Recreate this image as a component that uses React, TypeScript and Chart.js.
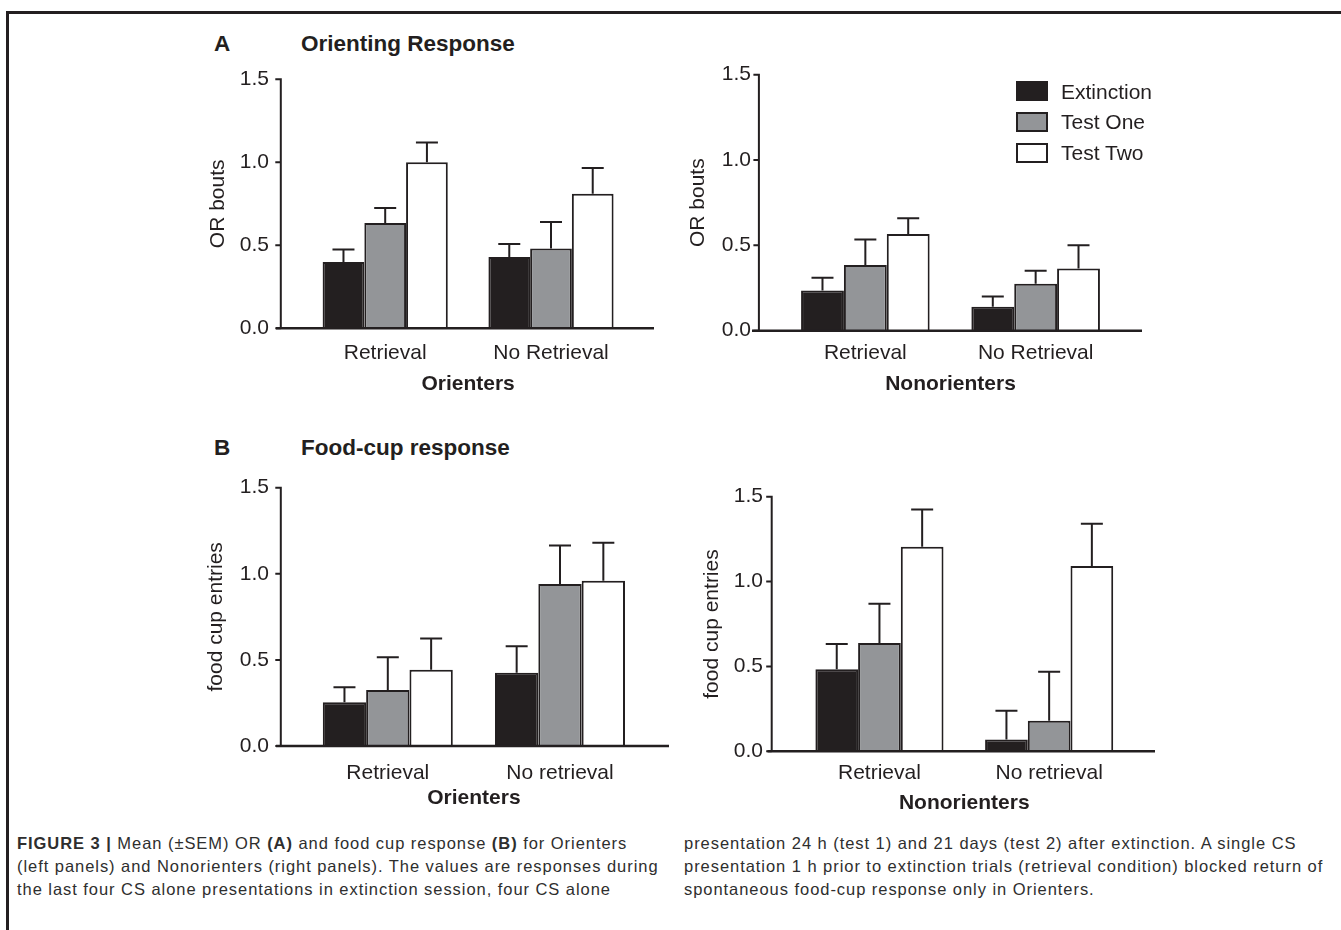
import React, { useEffect, useRef } from 'react';
import { Chart, registerables } from 'chart.js';

Chart.register(...registerables);

// ---------------- data ----------------
const SERIES = ['Extinction', 'Test One', 'Test Two'];
const CATS_A = ['Retrieval', 'No Retrieval'];
const CATS_B = ['Retrieval', 'No retrieval'];
const Y_TICKS = [0, 0.5, 1.0, 1.5];

// A: Orienting response, Orienters
const orOriExtinction = [0.40, 0.43];
const orOriTestOne = [0.635, 0.48];
const orOriTestTwo = [1.0, 0.81];
const orOriExtinctionSem = [0.075, 0.078];
const orOriTestOneSem = [0.09, 0.16];
const orOriTestTwoSem = [0.12, 0.155];

// A: Orienting response, Nonorienters
const orNonExtinction = [0.235, 0.14];
const orNonTestOne = [0.385, 0.275];
const orNonTestTwo = [0.567, 0.365];
const orNonExtinctionSem = [0.075, 0.06];
const orNonTestOneSem = [0.15, 0.077];
const orNonTestTwoSem = [0.092, 0.135];

// B: Food-cup response, Orienters
const fcOriExtinction = [0.254, 0.426];
const fcOriTestOne = [0.325, 0.941];
const fcOriTestTwo = [0.443, 0.96];
const fcOriExtinctionSem = [0.087, 0.153];
const fcOriTestOneSem = [0.19, 0.224];
const fcOriTestTwoSem = [0.182, 0.22];

// B: Food-cup response, Nonorienters
const fcNonExtinction = [0.483, 0.07];
const fcNonTestOne = [0.638, 0.18];
const fcNonTestTwo = [1.205, 1.091];
const fcNonExtinctionSem = [0.149, 0.169];
const fcNonTestOneSem = [0.231, 0.289];
const fcNonTestTwoSem = [0.22, 0.249];

// ---------------- styles ----------------
const INK = '#231f20';
const FILLS = ['#231f20', '#939598', '#ffffff'];
const SANS = "'Liberation Sans', Arial, Helvetica, sans-serif";
const FS = 21;
const LH = FS * 1.2;

type Layout = {
  canvas: { left: number; top: number; width: number; height: number };
  area: { left: number; right: number; top: number; bottom: number };
  yAxisX: number;
  xAxisFrom: number;
  xAxisTo: number;
  yLabelRight: number;
  yTitleX: number;
  xLabelY: number;
  xTitleY: number;
};

const LAYOUT_A_LEFT: Layout = {
  canvas: { left: 190, top: 60, width: 470, height: 340 },
  area: { left: 302.3, right: 633.9, top: 79.3, bottom: 328.3 },
  yAxisX: 280.8, xAxisFrom: 276, xAxisTo: 654, yLabelRight: 269,
  yTitleX: 218, xLabelY: 353, xTitleY: 384,
};
const LAYOUT_A_RIGHT: Layout = {
  canvas: { left: 670, top: 55, width: 490, height: 345 },
  area: { left: 780.2, right: 1120.8, top: 74.7, bottom: 330.7 },
  yAxisX: 758.9, xAxisFrom: 752, xAxisTo: 1142, yLabelRight: 751,
  yTitleX: 698, xLabelY: 353, xTitleY: 384,
};
const LAYOUT_B_LEFT: Layout = {
  canvas: { left: 190, top: 470, width: 490, height: 345 },
  area: { left: 301.7, right: 646.1, top: 487.7, bottom: 746 },
  yAxisX: 280.8, xAxisFrom: 276, xAxisTo: 669, yLabelRight: 269,
  yTitleX: 215.8, xLabelY: 773, xTitleY: 798,
};
const LAYOUT_B_RIGHT: Layout = {
  canvas: { left: 680, top: 475, width: 490, height: 345 },
  area: { left: 794.6, right: 1134, top: 496.7, bottom: 751.3 },
  yAxisX: 771.7, xAxisFrom: 767.5, xAxisTo: 1155, yLabelRight: 763,
  yTitleX: 712.3, xLabelY: 773, xTitleY: 803,
};

type PanelProps = {
  labels: string[];
  means: number[][];
  sems: number[][];
  yTitle: string;
  xTitle: string;
  layout: Layout;
};

function Panel({ labels, means, sems, yTitle, xTitle, layout }: PanelProps) {
  const ref = useRef<HTMLCanvasElement | null>(null);
  useEffect(() => {
    const canvas = ref.current;
    if (!canvas) return;

    const c = layout.canvas;
    const a = layout.area;
    const yWidth = a.left - c.left;
    const xHeight = c.top + c.height - a.bottom;
    const padTop = a.top - c.top;
    const padRight = c.left + c.width - a.right;

    const errorBars = {
      id: 'errorBars',
      afterDatasetsDraw(chart: any) {
        const g = chart.ctx;
        const yScale = chart.scales.y;
        g.save();
        g.strokeStyle = INK;
        g.lineWidth = 2;
        chart.data.datasets.forEach((ds: any, i: number) => {
          const meta = chart.getDatasetMeta(i);
          meta.data.forEach((bar: any, j: number) => {
            const top = yScale.getPixelForValue(ds.data[j] + sems[i][j]);
            const x = bar.x;
            g.beginPath();
            g.moveTo(x, bar.y);
            g.lineTo(x, top);
            g.moveTo(x - 11, top);
            g.lineTo(x + 11, top);
            g.stroke();
          });
        });
        g.restore();
      },
    };

    const axes = {
      id: 'axesLines',
      afterDraw(chart: any) {
        const g = chart.ctx;
        const yScale = chart.scales.y;
        const ax = layout.yAxisX - c.left;
        const y0 = yScale.getPixelForValue(0);
        const yMax = yScale.getPixelForValue(Y_TICKS[Y_TICKS.length - 1]);
        g.save();
        g.strokeStyle = INK;
        g.lineWidth = 2;
        g.beginPath();
        g.moveTo(ax, yMax - 1);
        g.lineTo(ax, y0);
        Y_TICKS.forEach((v) => {
          const py = yScale.getPixelForValue(v);
          g.moveTo(ax - 5.5, py);
          g.lineTo(ax, py);
        });
        g.stroke();
        g.lineWidth = 2.5;
        g.beginPath();
        g.moveTo(layout.xAxisFrom - c.left, y0);
        g.lineTo(layout.xAxisTo - c.left, y0);
        g.stroke();
        g.restore();
      },
    };

    const chart = new Chart(canvas, {
      type: 'bar',
      data: {
        labels,
        datasets: SERIES.map((name, i) => ({
          label: name,
          data: means[i],
          backgroundColor: FILLS[i],
          borderColor: INK,
          borderWidth: 2,
          borderSkipped: 'start',
          categoryPercentage: 0.755,
          barPercentage: 1.0,
        })),
      },
      options: {
        responsive: false,
        animation: false,
        devicePixelRatio: 1,
        layout: { padding: { left: 0, top: padTop, right: padRight, bottom: 0 } },
        plugins: {
          legend: { display: false },
          tooltip: { enabled: false },
        },
        scales: {
          x: {
            type: 'category',
            offset: true,
            grid: { display: false, drawTicks: true, tickLength: layout.xLabelY - a.bottom - LH / 2 },
            border: { display: false },
            ticks: {
              color: INK,
              font: { family: SANS, size: FS },
              padding: 0,
              maxRotation: 0,
              minRotation: 0,
              autoSkip: false,
            },
            title: {
              display: true,
              text: xTitle,
              color: INK,
              font: { family: SANS, size: FS, weight: 'bold' },
              padding: { top: 0, bottom: c.top + c.height - layout.xTitleY - LH / 2 },
            },
            afterFit: (s: any) => { s.height = xHeight; },
          } as any,
          y: {
            type: 'linear',
            min: 0,
            max: 1.5,
            grid: { display: false, drawTicks: true, tickLength: a.left - layout.yLabelRight },
            border: { display: false },
            afterBuildTicks: (s: any) => { s.ticks = Y_TICKS.map((v) => ({ value: v })); },
            ticks: {
              color: INK,
              font: { family: SANS, size: FS },
              padding: 0,
              callback: (v: any) => Number(v).toFixed(1),
            },
            title: {
              display: true,
              text: yTitle,
              color: INK,
              font: { family: SANS, size: FS },
              padding: { top: layout.yTitleX - c.left - LH / 2, bottom: 0 },
            },
            afterFit: (s: any) => { s.width = yWidth; },
          } as any,
        },
      },
      plugins: [errorBars, axes],
    } as any);
    return () => chart.destroy();
  }, [labels, means, sems, yTitle, xTitle, layout]);

  const c = layout.canvas;
  return (
    <canvas
      ref={ref}
      width={c.width}
      height={c.height}
      style={{ position: 'absolute', left: c.left, top: c.top, width: c.width, height: c.height }}
    />
  );
}

const abs = (left: number, top: number, extra: React.CSSProperties = {}): React.CSSProperties => ({
  position: 'absolute', left, top, whiteSpace: 'nowrap', ...extra,
});

function Label({ x, cy, size, bold, children }: { x: number; cy: number; size: number; bold?: boolean; children: React.ReactNode }) {
  return (
    <div
      style={abs(x, cy - size * 0.6, {
        font: `${bold ? 'bold ' : ''}${size}px ${SANS}`,
        lineHeight: `${size * 1.2}px`,
        color: INK,
      })}
    >
      {children}
    </div>
  );
}

function LegendRow({ top, fill, text }: { top: number; fill: string; text: string }) {
  return (
    <>
      <div style={abs(1015.5, top, { width: 32, height: 20, boxSizing: 'border-box', border: `2.5px solid ${INK}`, background: fill })} />
      <Label x={1061} cy={top + 10} size={FS}>{text}</Label>
    </>
  );
}

export default function App() {
  const capStyle: React.CSSProperties = { font: `16.5px ${SANS}`, lineHeight: '22px', letterSpacing: '0.95px', color: '#2e2e2e' };
  const capLine = (x: number, cy: number, content: React.ReactNode) => (
    <div style={abs(x, cy - 11, capStyle)}>{content}</div>
  );
  return (
    <div style={{ position: 'absolute', left: 0, top: 0, width: 1341, height: 930, background: '#fff', overflow: 'hidden' }}>
      {/* frame */}
      <div style={abs(6, 11, { width: 1335, height: 2.5, background: INK })} />
      <div style={abs(6, 11, { width: 2.5, height: 919, background: INK })} />

      {/* panel headings */}
      <Label x={214} cy={43} size={22.5} bold>A</Label>
      <Label x={301} cy={43} size={22.5} bold>Orienting Response</Label>
      <Label x={214} cy={447} size={22.5} bold>B</Label>
      <Label x={301} cy={447} size={22.5} bold>Food-cup response</Label>

      <Panel
        labels={CATS_A}
        means={[orOriExtinction, orOriTestOne, orOriTestTwo]}
        sems={[orOriExtinctionSem, orOriTestOneSem, orOriTestTwoSem]}
        yTitle="OR bouts"
        xTitle="Orienters"
        layout={LAYOUT_A_LEFT}
      />
      <Panel
        labels={CATS_A}
        means={[orNonExtinction, orNonTestOne, orNonTestTwo]}
        sems={[orNonExtinctionSem, orNonTestOneSem, orNonTestTwoSem]}
        yTitle="OR bouts"
        xTitle="Nonorienters"
        layout={LAYOUT_A_RIGHT}
      />
      <Panel
        labels={CATS_B}
        means={[fcOriExtinction, fcOriTestOne, fcOriTestTwo]}
        sems={[fcOriExtinctionSem, fcOriTestOneSem, fcOriTestTwoSem]}
        yTitle="food cup entries"
        xTitle="Orienters"
        layout={LAYOUT_B_LEFT}
      />
      <Panel
        labels={CATS_B}
        means={[fcNonExtinction, fcNonTestOne, fcNonTestTwo]}
        sems={[fcNonExtinctionSem, fcNonTestOneSem, fcNonTestTwoSem]}
        yTitle="food cup entries"
        xTitle="Nonorienters"
        layout={LAYOUT_B_RIGHT}
      />

      {/* legend */}
      <LegendRow top={81.3} fill={FILLS[0]} text={SERIES[0]} />
      <LegendRow top={111.5} fill={FILLS[1]} text={SERIES[1]} />
      <LegendRow top={143} fill={FILLS[2]} text={SERIES[2]} />

      {/* caption */}
      {capLine(17, 843, <><b>FIGURE 3 |</b> Mean (±SEM) OR <b>(A)</b> and food cup response <b>(B)</b> for Orienters</>)}
      {capLine(17, 866, '(left panels) and Nonorienters (right panels). The values are responses during')}
      {capLine(17, 889, 'the last four CS alone presentations in extinction session, four CS alone')}
      {capLine(684, 843, 'presentation 24 h (test 1) and 21 days (test 2) after extinction. A single CS')}
      {capLine(684, 866, 'presentation 1 h prior to extinction trials (retrieval condition) blocked return of')}
      {capLine(684, 889, 'spontaneous food-cup response only in Orienters.')}
    </div>
  );
}
